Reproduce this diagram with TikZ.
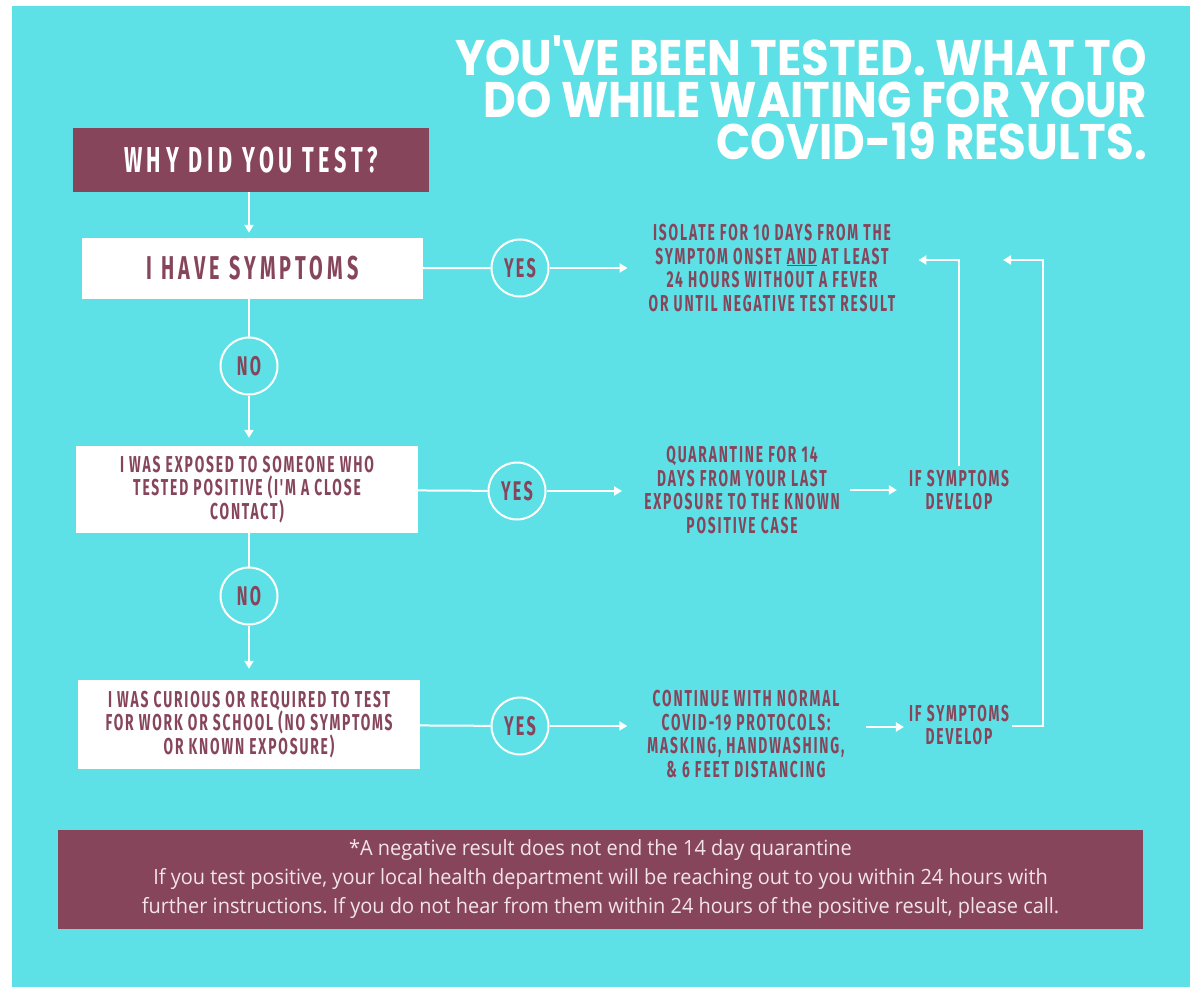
\documentclass[tikz,border=0pt]{standalone}
\usepackage{fontspec}
\usepackage{xcolor}
\usetikzlibrary{arrows.meta}

\setmainfont{Open Sans}
\newfontfamily\titlefont{Poppins}[FakeStretch=0.9]
\newfontfamily\condfont{Fira Sans}[FakeStretch=0.6,LetterSpace=8]
\newfontfamily\headfont{Fira Sans}[FakeStretch=0.6,LetterSpace=13]
\newfontfamily\notefont{Open Sans}[FakeStretch=0.95]

\definecolor{tealbg}{HTML}{5DE1E6}
\definecolor{plum}{HTML}{87455B}
\definecolor{blush}{HTML}{F3E4EA}

\frenchspacing
\begin{document}
\begin{tikzpicture}[x=1pt,y=-1pt,
  link/.style={draw=white,line width=2pt},
  arr/.style={link,-{Triangle[length=8pt,width=9pt]}},
  qbox/.style={fill=white,inner sep=0pt,text=plum,align=center,font=\condfont\bfseries\fontsize{23}{23.5}\selectfont},
  answer/.style={circle,draw=white,line width=2pt,minimum size=57pt,inner sep=0pt,text=plum,font=\condfont\bfseries\fontsize{27}{27}\selectfont},
  todo/.style={text=plum,align=center,inner xsep=12pt,inner ysep=4pt,font=\condfont\bfseries\fontsize{23}{23.7}\selectfont}]

\useasboundingbox (0,0) rectangle (1197,987);
\fill[white] (0,0) rectangle (1197,987);
\fill[tealbg] (12,6) rectangle (1190,987);

\node[anchor=east,align=right,text=white,inner sep=0pt,font=\titlefont\bfseries\fontsize{50}{42}\selectfont] at (1147,98) (title) {YOU'VE BEEN TESTED. WHAT TO\\DO WHILE WAITING FOR YOUR\\COVID-19 RESULTS.};

%questions
\node[fill=plum,text=white,minimum width=356,minimum height=64,inner sep=0pt,font=\headfont\bfseries\fontsize{36}{36}\selectfont] at (251,160) (why) {WHY DID YOU TEST?};
\node[qbox,minimum width=341,minimum height=61,font=\headfont\bfseries\fontsize{33}{33}\selectfont] at (252.5,268.5) (sym) {I HAVE SYMPTOMS};
\node[qbox,minimum width=342,minimum height=87] at (247,489.5) (exp) {I WAS EXPOSED TO SOMEONE WHO\\TESTED POSITIVE (I'M A CLOSE\\CONTACT)};
\node[qbox,minimum width=342,minimum height=89] at (249,724.5) (cur) {I WAS CURIOUS OR REQUIRED TO TEST\\FOR WORK OR SCHOOL (NO SYMPTOMS\\OR KNOWN EXPOSURE)};

%answers
\node[answer] at (520,268) (yes1) {YES};
\node[answer] at (249,366) (no1) {NO};
\node[answer] at (517,491) (yes2) {YES};
\node[answer] at (249,596) (no2) {NO};
\node[answer] at (520,726) (yes3) {YES};

%what to do
\node[todo] at (772,268) (iso) {ISOLATE FOR 10 DAYS FROM THE\\SYMPTOM ONSET \underline{AND} AT LEAST\\24 HOURS WITHOUT A FEVER\\OR UNTIL NEGATIVE TEST RESULT};
\node[todo] at (742,490) (quar) {QUARANTINE FOR 14\\DAYS FROM YOUR LAST\\EXPOSURE TO THE KNOWN\\POSITIVE CASE};
\node[todo] at (746,734) (cont) {CONTINUE WITH NORMAL\\COVID-19 PROTOCOLS:\\MASKING, HANDWASHING,\\\& 6 FEET DISTANCING};
\node[todo] at (959,490) (dev1) {IF SYMPTOMS\\DEVELOP};
\node[todo] at (959,725) (dev2) {IF SYMPTOMS\\DEVELOP};

\coordinate (rtop) at (1043,260);
\coordinate (back) at (1003,260);

%branches
\draw[arr,shorten >=5pt] (why.south -| no1) -- (no1 |- sym.north);
\draw[link] (no1 |- sym.south) -- (no1);
\draw[arr,shorten >=8pt] (no1) -- (no1 |- exp.north);
\draw[link] (no2 |- exp.south) -- (no2);
\draw[arr,shorten >=11pt] (no2) -- (no2 |- cur.north);

\draw[link] (sym) -- (yes1);
\draw[arr,shorten >=9pt] (yes1) -- (yes1 -| iso.west);
\draw[link] (exp) -- (yes2);
\draw[arr,shorten >=10pt] (yes2) -- (yes2 -| quar.west);
\draw[link] (cur) -- (yes3);
\draw[arr,shorten >=8pt] (yes3) -- (yes3 -| cont.west);

\draw[arr,shorten <=-2pt] (quar) -- (dev1);
\draw[arr,shorten <=9pt,shorten >=-7pt] ([yshift=-2pt]cont.east |- dev2.west) -- ([yshift=-2pt]dev2.west);

\draw[arr,shorten >=11pt] (dev1.north) |- ([yshift=8pt]iso.east);
\draw[arr] ([xshift=-9pt,yshift=-1pt]dev2.east) -| (rtop) -- (back);

%note
\node[fill=plum,text=blush,minimum width=1085,minimum height=99,inner sep=0pt,align=center,font=\notefont\fontsize{21}{29}\selectfont] at (600.5,879) (note) {*A negative result does not end the 14 day quarantine\\If you test positive, your local health department will be reaching out to you within 24 hours with\\further instructions. If you do not hear from them within 24 hours of the positive result, please call.};

\end{tikzpicture}
\end{document}
